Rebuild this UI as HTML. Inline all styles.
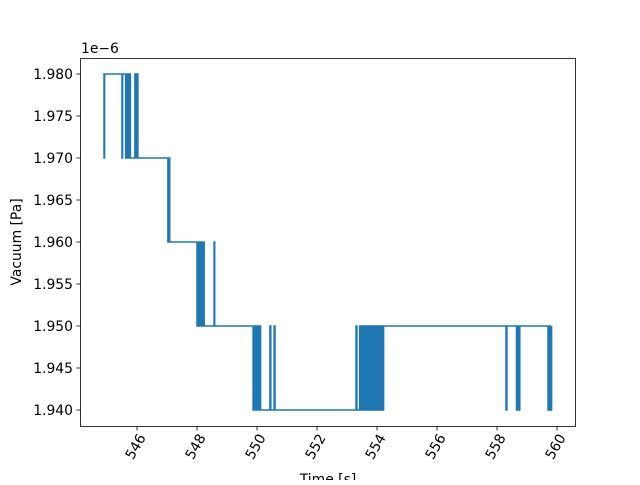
<!DOCTYPE html>
<html><head><meta charset="utf-8"><style>
body{margin:0;background:#fff}
svg text{font-family:"DejaVu Sans","Liberation Sans",sans-serif;font-size:13.9px;fill:#000}
</style></head><body>
<svg id="chart" width="640" height="480" xmlns="http://www.w3.org/2000/svg">
<g id="marks"></g>
<rect x="80.5" y="58.5" width="495" height="368" fill="none" stroke="#000" stroke-width="0.8"/>
<g id="axes"></g>
<text x="81" y="53">1e−6</text>
<text transform="translate(21,242) rotate(-90)" text-anchor="middle">Vacuum [Pa]</text>
<text x="328" y="484" text-anchor="middle">Time [s]</text>
</svg>
<script>
// values in units of 1e-9 Pa (ie 1980 = 1.980e-6)
const times = [544.87,544.9,544.9,544.92,544.92,545.5,545.5,545.52,545.52,545.62,545.62,545.66,545.66,545.7,545.7,545.74,545.74,545.78,545.78,545.93,545.93,545.96,545.96,546.0,546.0,546.03,546.03,547.03,547.03,547.06,547.06,547.09,547.09,547.12,547.12,548.0,548.0,548.04,548.04,548.08,548.08,548.12,548.12,548.16,548.16,548.2,548.2,548.24,548.24,548.57,548.57,548.59,548.59,549.87,549.87,549.92,549.92,549.96,549.96,550.0,550.0,550.04,550.04,550.08,550.08,550.12,550.12,550.43,550.43,550.46,550.46,550.57,550.57,550.6,550.6,553.3,553.3,553.33,553.33,553.42,553.42,553.47,553.47,553.52,553.52,553.57,553.57,553.62,553.62,553.67,553.67,553.72,553.72,553.77,553.77,553.82,553.82,553.87,553.87,553.92,553.92,553.97,553.97,554.02,554.02,554.07,554.07,554.12,554.12,554.17,554.17,554.22,554.22,554.26,554.26,558.3,558.3,558.33,558.33,558.65,558.65,558.69,558.69,558.73,558.73,558.76,558.76,559.7,559.7,559.74,559.74,559.78,559.78,559.82,559.82,559.85];
const values = [1980,1980,1970,1970,1980,1980,1970,1970,1980,1980,1970,1970,1980,1980,1970,1970,1980,1980,1970,1970,1980,1980,1970,1970,1980,1980,1970,1970,1960,1960,1970,1970,1960,1960,1960,1960,1950,1950,1960,1960,1950,1950,1960,1960,1950,1950,1960,1960,1950,1950,1960,1960,1950,1950,1940,1940,1950,1950,1940,1940,1950,1950,1940,1940,1950,1950,1940,1940,1950,1950,1940,1940,1950,1950,1940,1940,1950,1950,1940,1940,1950,1950,1940,1940,1950,1950,1940,1940,1950,1950,1940,1940,1950,1950,1940,1940,1950,1950,1940,1940,1950,1950,1940,1940,1950,1950,1940,1940,1950,1950,1940,1940,1950,1950,1950,1950,1940,1940,1950,1950,1940,1940,1950,1950,1940,1940,1950,1950,1940,1940,1950,1950,1940,1940,1950];
const xTicks = [546,548,550,552,554,556,558,560];
const yTicks = [1940,1945,1950,1955,1960,1965,1970,1975,1980];
const yTickLabels = ["1.940","1.945","1.950","1.955","1.960","1.965","1.970","1.975","1.980"];

const NS="http://www.w3.org/2000/svg";
function xs(t){return 137+(t-546)*30;}
function ys(v){return 410-(v-1940)*(336/40);}
const marks=document.getElementById('marks'), axes=document.getElementById('axes');
let pts=times.map((t,i)=>xs(t).toFixed(2)+','+ys(values[i]).toFixed(2)).join(' ');
const pl=document.createElementNS(NS,'polyline');
pl.setAttribute('points',pts);pl.setAttribute('fill','none');pl.setAttribute('stroke','#1f77b4');pl.setAttribute('stroke-width','1.5');


marks.appendChild(pl);
xTicks.forEach(t=>{
  const x=xs(t);
  const l=document.createElementNS(NS,'line');
  l.setAttribute('x1',x);l.setAttribute('x2',x);l.setAttribute('y1',426.5);l.setAttribute('y2',430.5);l.setAttribute('stroke','#000');l.setAttribute('stroke-width','0.8');
  
  
  axes.appendChild(l);
  const tx=document.createElementNS(NS,'text');
  tx.setAttribute('transform','translate('+(x+5)+',435) rotate(-60)');tx.setAttribute('text-anchor','end');tx.setAttribute('dy','0.35em');
  tx.textContent=t;
  
  
  axes.appendChild(tx);
});
yTicks.forEach((v,i)=>{
  const y=ys(v);
  const l=document.createElementNS(NS,'line');
  l.setAttribute('x1',76.5);l.setAttribute('x2',80.5);l.setAttribute('y1',y);l.setAttribute('y2',y);l.setAttribute('stroke','#000');l.setAttribute('stroke-width','0.8');
  
  
  axes.appendChild(l);
  const tx=document.createElementNS(NS,'text');
  tx.setAttribute('x',73);tx.setAttribute('y',y+5);tx.setAttribute('text-anchor','end');
  tx.textContent=yTickLabels[i];
  
  
  axes.appendChild(tx);
});
</script>
</body></html>
